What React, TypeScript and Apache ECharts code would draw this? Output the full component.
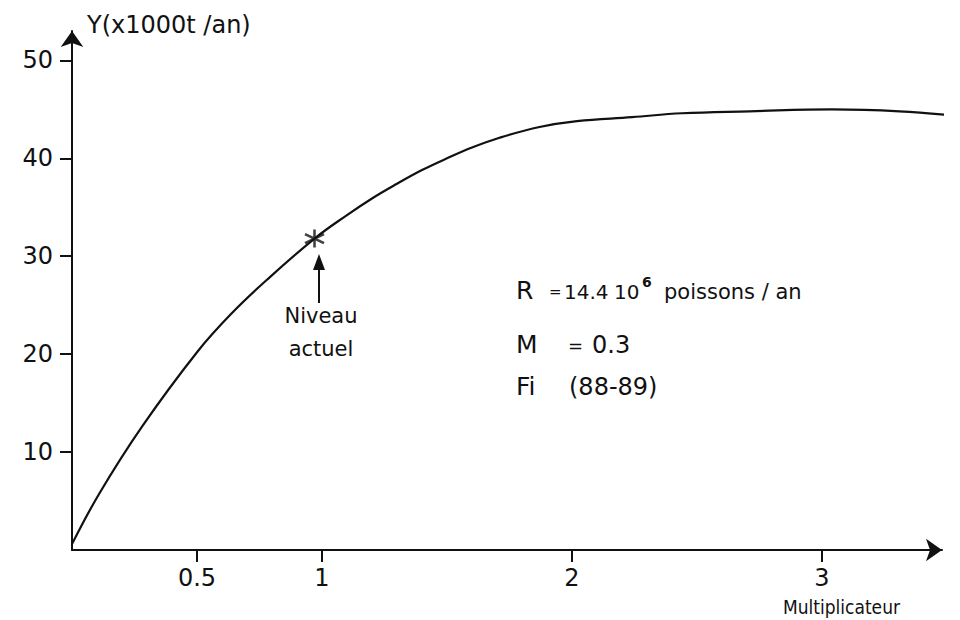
import React, { useEffect, useRef } from "react";
import * as echarts from "echarts";

// Multiplicateur (x) vs Y (x1000 t / an)
const multiplier = [0, 0.11, 0.28, 0.5, 0.64, 0.78, 0.97, 1.1, 1.2, 1.3, 1.4, 1.5, 1.6, 1.71, 1.87, 2.02, 2.24, 2.44, 2.71, 3.04, 3.31, 3.55];
const yieldK = [0.6, 5.8, 12.6, 20.2, 24.2, 27.6, 31.8, 34.2, 35.9, 37.4, 38.8, 40.0, 41.1, 42.1, 43.2, 43.8, 44.2, 44.6, 44.8, 45.0, 44.8, 44.3];
const currentLevel = [0.97, 31.8];
const xTickValues = [0.5, 1, 2, 3];
const yTickValues = [10, 20, 30, 40, 50];

const INK = "#111";
const FONT = "'DejaVu Sans', 'Noto Sans', sans-serif";
const NARROW = "'DejaVu Sans Condensed', 'Liberation Sans Narrow', 'DejaVu Sans', sans-serif";

const txt = (x: number, y: number, text: string, fontSize: number, extra: any = {}) => ({
  type: "text",
  x,
  y,
  style: { text, fontSize, fill: INK, fontFamily: FONT, verticalAlign: "middle", ...extra },
});

export default function App() {
  const ref = useRef<HTMLDivElement>(null);
  useEffect(() => {
    if (!ref.current) return;
    const chart = echarts.init(ref.current, null, { renderer: "svg" });
    chart.setOption({
      animation: false,
      backgroundColor: "#fff",
      grid: { left: 72, right: 18, top: 31, bottom: 70, containLabel: false },
      xAxis: {
        type: "value",
        min: 0,
        max: 3.48,
        splitLine: { show: false },
        axisLine: {
          onZero: false,
          lineStyle: { color: INK, width: 2 },
          symbol: ["none", "arrow"],
          symbolSize: [17, 16],
        },
        axisTick: { show: true, length: 12, customValues: xTickValues, lineStyle: { color: INK, width: 2 } },
        axisLabel: {
          customValues: xTickValues,
          margin: 16,
          color: INK,
          fontSize: 24,
          fontFamily: FONT,
          formatter: (v: number) => String(v),
        },
      },
      yAxis: {
        type: "value",
        min: 0,
        max: 53,
        splitLine: { show: false },
        axisLine: {
          lineStyle: { color: INK, width: 2 },
          symbol: ["none", "arrow"],
          symbolSize: [17, 16],
        },
        axisTick: { show: true, length: 12, customValues: yTickValues, lineStyle: { color: INK, width: 2 } },
        axisLabel: {
          customValues: yTickValues,
          margin: 19,
          color: INK,
          fontSize: 24,
          fontFamily: FONT,
        },
      },
      series: [
        {
          type: "line",
          data: multiplier.map((x, i) => [x, yieldK[i]]),
          smooth: 0.4,
          showSymbol: false,
          clip: false,
          lineStyle: { color: INK, width: 2.2 },
        },
        {
          type: "scatter",
          data: [currentLevel],
          symbol: "path://M10,0L10,20M1.5,5L18.5,15M1.5,15L18.5,5",
          symbolSize: [19, 18],
          itemStyle: { color: "rgba(0,0,0,0)", borderColor: INK, borderWidth: 2.5 },
          z: 5,
        },
      ],
      graphic: [
        txt(87, 25, "Y(x1000t /an)", 24),
        {
          type: "line",
          shape: { x1: 319, y1: 303, x2: 319, y2: 266 },
          style: { stroke: INK, lineWidth: 2 },
        },
        {
          type: "polygon",
          shape: { points: [[319, 254], [313, 270], [325, 270]] },
          style: { fill: INK },
        },
        txt(321, 316, "Niveau", 21, { align: "center" }),
        txt(321, 349, "actuel", 21, { align: "center" }),
        txt(516, 290, "R", 25),
        txt(549, 292, "=", 15),
        txt(564, 292, "14.4", 20),
        txt(614, 292, "10", 20),
        txt(642, 282, "6", 14, { fontWeight: "bold" }),
        txt(664, 292, "poissons / an", 21),
        txt(516, 344, "M", 25),
        txt(568, 345, "=", 18),
        txt(592, 345, "0.3", 24),
        txt(516, 386, "Fi", 25),
        txt(569, 387, "(88-89)", 24),
        {
          type: "text",
          x: 900,
          y: 607,
          style: { text: "Multiplicateur", fontSize: 19, fill: INK, fontFamily: NARROW, align: "right", verticalAlign: "middle" },
        },
      ],
    });
    return () => chart.dispose();
  }, []);
  return <div ref={ref} style={{ position: "fixed", left: 0, top: 0, width: 960, height: 620 }} />;
}
